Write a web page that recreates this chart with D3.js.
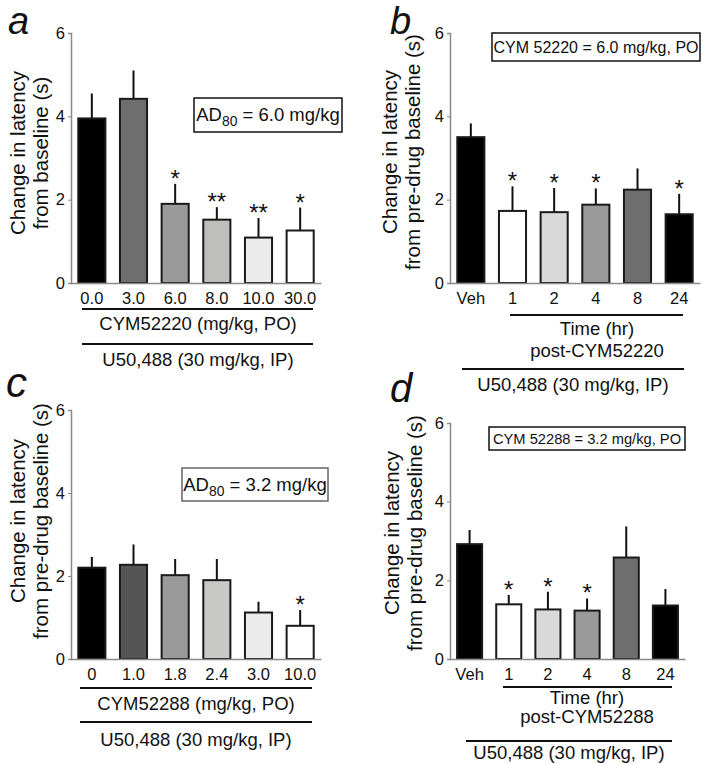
<!DOCTYPE html>
<html><head><meta charset="utf-8">
<script src="https://cdn.jsdelivr.net/npm/d3@7/dist/d3.min.js"></script>
<style>
body{margin:0;background:#fff;}
text{font-family:"Liberation Sans",Arial,sans-serif;fill:#111;}
</style></head>
<body><svg id="c" width="702" height="764"></svg>
<script>
// ---- data ----
const aCats = ["0.0","3.0","6.0","8.0","10.0","30.0"];
const aMeans = [3.95, 4.42, 1.90, 1.52, 1.09, 1.26];
const aErr = [4.55, 5.10, 2.38, 1.82, 1.56, 1.81];
const aSig = ["", "", "*", "**", "**", "*"];
const aFill = ["#000000","#6e6e6e","#9a9a9a","#bfc0bd","#ebebeb","#ffffff"];

const bCats = ["Veh","1","2","4","8","24"];
const bMeans = [3.50, 1.73, 1.70, 1.88, 2.24, 1.65];
const bErr = [3.83, 2.32, 2.28, 2.27, 2.75, 2.14];
const bSig = ["", "*", "*", "*", "", "*"];
const bFill = ["#000000","#ffffff","#d9d9d9","#9a9a9a","#6e6e6e","#000000"];

const cCats = ["0","1.0","1.8","2.4","3.0","10.0"];
const cMeans = [2.20, 2.27, 2.02, 1.90, 1.12, 0.80];
const cErr = [2.46, 2.76, 2.41, 2.41, 1.38, 1.18];
const cSig = ["", "", "", "", "", "*"];
const cFill = ["#000000","#555555","#9a9a9a","#c8c8c6","#ebebeb","#ffffff"];

const dCats = ["Veh","1","2","4","8","24"];
const dMeans = [2.92, 1.39, 1.26, 1.23, 2.58, 1.36];
const dErr = [3.28, 1.63, 1.71, 1.54, 3.37, 1.78];
const dSig = ["", "*", "*", "*", "", ""];
const dFill = ["#000000","#ffffff","#d9d9d9","#9a9a9a","#6e6e6e","#000000"];

const yTicks = [0, 2, 4, 6];

const svg = d3.select("#c");

function panel(cfg){
  const g = svg.append("g");
  const y = d3.scaleLinear().domain([0,6]).range([cfg.yb, cfg.yt]);
  const x = d3.scaleBand().domain(cfg.cats).range([cfg.x0, cfg.x1]).paddingInner(cfg.pad).paddingOuter(cfg.pad/2);
  // error bars
  g.selectAll(".err").data(cfg.cats).join("line")
    .attr("x1", d => x(d) + x.bandwidth()/2).attr("x2", d => x(d) + x.bandwidth()/2)
    .attr("y1", (d,i) => y(cfg.means[i])).attr("y2", (d,i) => y(cfg.err[i]))
    .attr("stroke", "#111").attr("stroke-width", 2);
  // bars
  g.selectAll(".bar").data(cfg.cats).join("rect")
    .attr("x", d => x(d)).attr("width", x.bandwidth())
    .attr("y", (d,i) => y(cfg.means[i])).attr("height", (d,i) => y(0) - y(cfg.means[i]))
    .attr("fill", (d,i) => cfg.fill[i]).attr("stroke", "#1a1a1a").attr("stroke-width", 2);
  // significance
  g.selectAll(".sig").data(cfg.cats).join("text")
    .attr("x", d => x(d) + x.bandwidth()/2).attr("y", (d,i) => y(cfg.err[i]) + 3)
    .attr("text-anchor", "middle").attr("font-size", 24).text((d,i) => cfg.sig[i]);
  // y axis
  const ya = g.append("g").attr("transform", `translate(${cfg.x0},0)`)
    .call(d3.axisLeft(y).tickValues(yTicks).tickSize(3).tickPadding(3).tickFormat(d3.format("d")));
  ya.select(".domain").attr("stroke", "#8a8a8a").attr("stroke-width", 1.5);
  ya.selectAll(".tick line").attr("stroke", "#8a8a8a");
  ya.selectAll(".tick text").attr("font-size", 16.5).attr("font-family", "Liberation Sans, Arial").attr("fill", "#111");
  // x axis
  const xa = g.append("g").attr("transform", `translate(0,${cfg.yb})`)
    .call(d3.axisBottom(x).tickSize(0).tickPadding(9).tickSizeOuter(0));
  xa.select(".domain").attr("stroke", "#8a8a8a").attr("stroke-width", 1.5);
  xa.selectAll(".tick text").attr("font-size", 16.5).attr("font-family", "Liberation Sans, Arial").attr("fill", "#111");
  // y label
  const yl = g.append("text").attr("transform", `translate(${cfg.ylx},${cfg.yly}) rotate(-90)`)
    .attr("text-anchor", "middle").attr("font-size", 20.5);
  yl.append("tspan").attr("x", 0).attr("dy", 0).text("Change in latency");
  yl.append("tspan").attr("x", 0).attr("dy", 22.5).text(cfg.ylab2);
  // panel letter
  g.append("text").attr("x", cfg.lx).attr("y", cfg.ly).attr("font-size", cfg.lfs)
    .attr("font-style", "italic").attr("font-family", "Liberation Sans, Arial").text(cfg.letter);
  // legend box
  const bx = g.append("g");
  bx.append("rect").attr("x", cfg.box[0]).attr("y", cfg.box[1]).attr("width", cfg.box[2]).attr("height", cfg.box[3])
    .attr("fill", "#fff").attr("stroke", cfg.boxStroke || "#111").attr("stroke-width", 1.5);
  const bt = bx.append("text").attr("x", cfg.box[0] + cfg.box[2]/2).attr("y", cfg.box[1] + cfg.box[3]/2 + cfg.boxFs*0.35)
    .attr("text-anchor", "middle").attr("font-size", cfg.boxFs);
  if (cfg.boxSub) {
    bt.append("tspan").text("AD");
    bt.append("tspan").attr("font-size", cfg.boxFs*0.75).attr("dy", 5).text("80");
    bt.append("tspan").attr("dy", -5).text(cfg.boxText);
  } else bt.text(cfg.boxText);
  // under-labels
  cfg.lines.forEach(l => {
    g.append("line").attr("x1", l[0]).attr("x2", l[1]).attr("y1", l[2]).attr("y2", l[2])
      .attr("stroke", "#111").attr("stroke-width", 2);
  });
  cfg.labels.forEach(l => {
    g.append("text").attr("x", l[0]).attr("y", l[1]).attr("text-anchor", "middle").attr("font-size", 18.5).text(l[2]);
  });
}

panel({cats:aCats, means:aMeans, err:aErr, sig:aSig, fill:aFill,
  x0:71, x1:321, yt:33, yb:283, pad:0.35,
  ylx:25, yly:153, ylab2:"from baseline (s)", letter:"a", lx:8, ly:34, lfs:38,
  box:[194,98,148,34], boxFs:18.5, boxSub:true, boxText:" = 6.0 mg/kg",
  lines:[[82,313,309],[82,313,344]],
  labels:[[198,330,"CYM52220 (mg/kg, PO)"],[198,366,"U50,488 (30 mg/kg, IP)"]]});

panel({cats:bCats, means:bMeans, err:bErr, sig:bSig, fill:bFill,
  x0:450, x1:700, yt:33, yb:283, pad:0.35,
  ylx:397, yly:152, ylab2:"from pre-drug baseline (s)", letter:"b", lx:390, ly:34, lfs:38,
  box:[492,33,208,28], boxFs:16, boxText:"CYM 52220 = 6.0 mg/kg, PO",
  lines:[[510,683,315],[462,684,369]],
  labels:[[597,335,"Time (hr)"],[597,357,"post-CYM52220"],[573,391,"U50,488 (30 mg/kg, IP)"]]});

panel({cats:cCats, means:cMeans, err:cErr, sig:cSig, fill:cFill,
  x0:71, x1:321, yt:410, yb:659, pad:0.35,
  ylx:25, yly:521, ylab2:"from pre-drug baseline (s)", letter:"c", lx:6, ly:397, lfs:42,
  box:[182,468,146,33], boxFs:18.5, boxSub:true, boxText:" = 3.2 mg/kg", boxStroke:"#666",
  lines:[[80,312,688],[80,312,722]],
  labels:[[196,710,"CYM52288 (mg/kg, PO)"],[196,746,"U50,488 (30 mg/kg, IP)"]]});

panel({cats:dCats, means:dMeans, err:dErr, sig:dSig, fill:dFill,
  x0:450, x1:685, yt:423, yb:659, pad:0.36,
  ylx:399, yly:533, ylab2:"from pre-drug baseline (s)", letter:"d", lx:390, ly:402, lfs:40,
  box:[489,427,196,23], boxFs:14.7, boxText:"CYM 52288 = 3.2 mg/kg, PO",
  lines:[[503,672,687],[466,672,741]],
  labels:[[587,704,"Time (hr)"],[587,723,"post-CYM52288"],[569,759,"U50,488 (30 mg/kg, IP)"]]});
</script></body></html>
